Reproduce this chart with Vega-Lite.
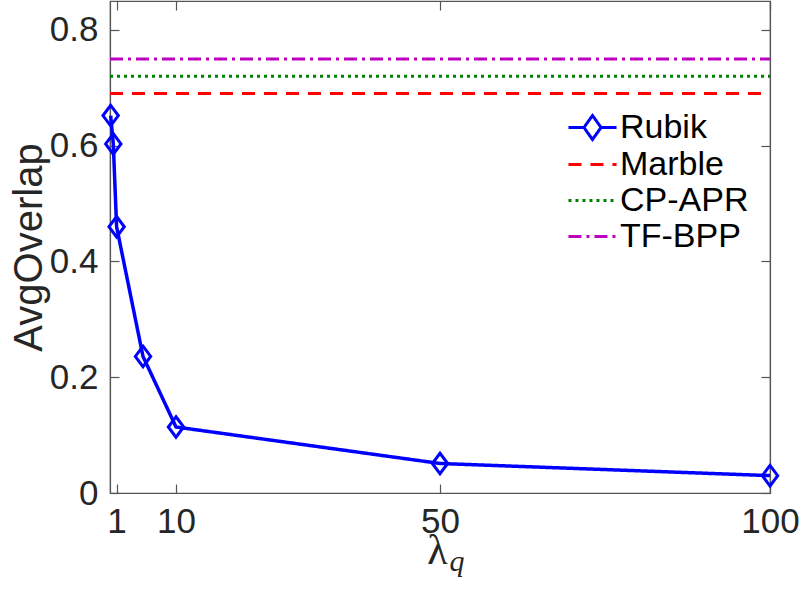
{
  "$schema": "https://vega.github.io/schema/vega-lite/v6.json",
  "width": 660,
  "height": 492,
  "autosize": "none",
  "padding": {"left": 110, "top": 1, "right": 30, "bottom": 97},
  "background": "white",
  "datasets": {
    "baselines": [
      {"series": "Marble", "x": 0, "y": 0.69},
      {"series": "Marble", "x": 100, "y": 0.69},
      {"series": "CP-APR", "x": 0, "y": 0.72},
      {"series": "CP-APR", "x": 100, "y": 0.72},
      {"series": "TF-BPP", "x": 0, "y": 0.75},
      {"series": "TF-BPP", "x": 100, "y": 0.75}
    ],
    "rubik": [
      {"series": "Rubik", "x": 0.1, "y": 0.652},
      {"series": "Rubik", "x": 0.5, "y": 0.603},
      {"series": "Rubik", "x": 1, "y": 0.46},
      {"series": "Rubik", "x": 5, "y": 0.236},
      {"series": "Rubik", "x": 10, "y": 0.114},
      {"series": "Rubik", "x": 50, "y": 0.051},
      {"series": "Rubik", "x": 100, "y": 0.03}
    ]
  },
  "config": {
    "font": "Liberation Sans",
    "view": {"stroke": "#555555", "strokeWidth": 1.2},
    "axis": {
      "grid": false,
      "domainColor": "#555555",
      "domainWidth": 1.2,
      "tickColor": "#555555",
      "tickWidth": 1.2,
      "labelColor": "#262626",
      "titleColor": "#262626",
      "labelFont": "Liberation Sans",
      "labelFontSize": 35,
      "titleFontWeight": "normal"
    }
  },
  "resolve": {"axis": {"x": "independent", "y": "independent"}},
  "layer": [
    {
      "data": {"name": "baselines"},
      "mark": {"type": "line", "strokeWidth": 3},
      "encoding": {
        "x": {
          "field": "x", "type": "quantitative",
          "scale": {"domain": [0, 100], "nice": false, "zero": false},
          "axis": {
            "orient": "bottom", "values": [1, 10, 50, 100], "tickSize": -9,
            "labelPadding": 20, "labelFlush": false,
            "title": "λ", "titleFont": "Liberation Serif", "titleFontSize": 42,
            "titleBaseline": "alphabetic", "titleX": 327, "titleY": 70
          }
        },
        "y": {
          "field": "y", "type": "quantitative",
          "scale": {"domain": [0, 0.85], "nice": false},
          "axis": {
            "orient": "left", "values": [0, 0.2, 0.4, 0.6, 0.8], "format": "~g",
            "tickSize": -9, "labelPadding": 21, "labelFlush": false,
            "title": "AvgOverlap", "titleFontSize": 40, "titlePadding": 0
          }
        },
        "color": {
          "field": "series", "type": "nominal",
          "scale": {"domain": ["Rubik", "Marble", "CP-APR", "TF-BPP"], "range": ["#0000ff", "#ff0000", "#008000", "#bf00bf"]},
          "legend": {
            "orient": "none", "legendX": 465, "legendY": 109, "title": null,
            "labelFontSize": 34, "labelColor": "#000000", "labelFont": "Liberation Sans",
            "symbolType": "stroke", "symbolSize": 1000,
            "symbolStrokeWidth": 3, "rowPadding": 1, "labelOffset": 10,
            "encode": {
              "symbols": {
                "update": {
                  "shape": {"signal": "datum.value === 'Rubik' ? 'M-1.52,0L-0.54,0M0.54,0L1.52,0M0,-0.76L0.54,0L0,0.76L-0.54,0Z' : 'M-1.52,0L1.52,0'"}
                }
              }
            }
          }
        },
        "strokeDash": {
          "field": "series", "type": "nominal",
          "scale": {"domain": ["Rubik", "Marble", "CP-APR", "TF-BPP"], "range": [[1, 0], [13, 9], [3, 4], [13, 5, 3, 5]]}
        }
      }
    },
    {
      "data": {"name": "rubik"},
      "mark": {"type": "line", "strokeWidth": 3.5},
      "encoding": {
        "x": {
          "field": "x", "type": "quantitative",
          "axis": {
            "orient": "bottom", "domain": false, "ticks": false, "labels": false,
            "title": "q", "titleFont": "Liberation Serif", "titleFontStyle": "italic", "titleFontSize": 30,
            "titleBaseline": "alphabetic", "titleAlign": "left", "titleX": 339, "titleY": 77
          }
        },
        "y": {
          "field": "y", "type": "quantitative",
          "axis": {"orient": "right", "values": [0, 0.2, 0.4, 0.6, 0.8], "tickSize": -9, "labels": false, "title": null}
        },
        "color": {"field": "series", "type": "nominal"},
        "strokeDash": {"field": "series", "type": "nominal"}
      }
    },
    {
      "data": {"name": "rubik"},
      "mark": {"type": "point", "shape": "M0,-1L0.75,0L0,1L-0.75,0Z", "size": 420, "filled": false, "strokeWidth": 3, "opacity": 1},
      "encoding": {
        "x": {
          "field": "x", "type": "quantitative",
          "axis": {"orient": "top", "values": [1, 10, 50, 100], "tickSize": -9, "labels": false, "title": null}
        },
        "y": {"field": "y", "type": "quantitative", "axis": null},
        "color": {"field": "series", "type": "nominal"}
      }
    }
  ]
}
